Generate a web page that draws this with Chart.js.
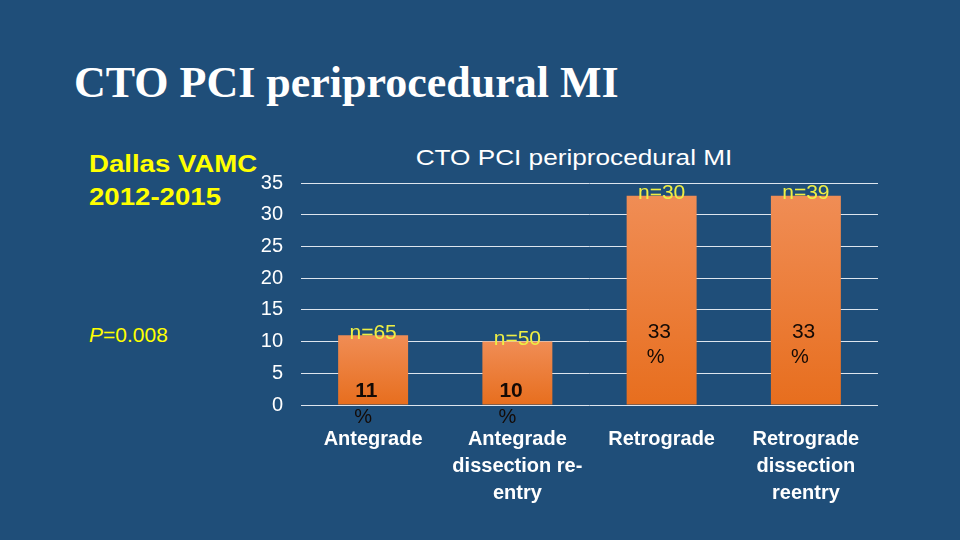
<!DOCTYPE html>
<html>
<head>
<meta charset="utf-8">
<script src="https://cdn.jsdelivr.net/npm/chart.js@4/dist/chart.umd.min.js"></script>
<style>
    body {
        margin: 0;
        width: 960px;
        height: 540px;
        overflow: hidden;
        background: #1f4e79;
        position: relative;
        font-family: "Liberation Sans", Arial, sans-serif;
    }

    #slideTitle {
        position: absolute;
        left: 74px;
        top: 61px;
        font: bold 44px / 1 "Liberation Serif", "Times New Roman", serif;
        color: #fff;
        white-space: nowrap;
    }

    #site {
        position: absolute;
        left: 89px;
        top: 147px;
        font-weight: bold;
        font-size: 24px;
        line-height: 33px;
        color: #ffff00;
        transform: scaleX(1.15);
        transform-origin: left top;
        white-space: nowrap;
    }

    #pValue {
        position: absolute;
        left: 89px;
        top: 324px;
        font-size: 21px;
        line-height: 1;
        color: #ffff00;
    }

    #chartTitle {
        position: absolute;
        left: 574px;
        top: 147px;
        font-size: 22px;
        line-height: 1;
        color: #fff;
        white-space: nowrap;
        transform: translateX(-50%) scaleX(1.19);
    }

    #miChart {
        position: absolute;
        left: 200px;
        top: 130px;
    }
</style>
</head>
<body>
<div id="slideTitle">CTO PCI periprocedural MI</div>
<div id="site">Dallas VAMC<br>2012-2015</div>
<div id="pValue"><i>P</i>=0.008</div>
<div id="chartTitle">CTO PCI periprocedural MI</div>
<canvas id="miChart" width="748" height="400"></canvas>

<script>
    const categories = [
        ["Antegrade"],
        ["Antegrade", "dissection re-", "entry"],
        ["Retrograde"],
        ["Retrograde", "dissection", "reentry"],
    ];

    const miRates = [11, 10, 33, 33];
    const pctLabels = ["11", "10", "33", "33"];
    const sampleSizes = ["n=65", "n=50", "n=30", "n=39"];

    const yMin = 0;
    const yMax = 35;
    const yStep = 5;

    const FONT = '"Liberation Sans", Arial, sans-serif';

    /*
    |--------------------------------------------------------------------------
    | Bar labels (n= on top, % inside)
    |--------------------------------------------------------------------------
    */

    const barLabels = {
        id: "barLabels",

        afterDatasetsDraw(chart) {
            const { ctx } = chart;
            const base = chart.scales.y.getPixelForValue(0);

            chart.getDatasetMeta(0).data.forEach((bar, i) => {
                const h = base - bar.y;
                const tall = h > 120;
                const y1 = tall ? base - h * 0.35 : base - 14;
                const x1 = tall ? bar.x - 14 : bar.x - 18;

                ctx.save();
                ctx.textBaseline = "middle";

                ctx.textAlign = "center";
                ctx.fillStyle = "#eeee44";
                ctx.font = "21px " + FONT;
                ctx.fillText(sampleSizes[i], bar.x, bar.y - 2);

                ctx.textAlign = "left";
                ctx.fillStyle = "#140a05";
                ctx.font = (tall ? "" : "bold ") + "21px " + FONT;
                ctx.fillText(pctLabels[i], x1, y1);

                ctx.font = "20px " + FONT;
                ctx.fillText("%", x1 - 1, y1 + 26);
                ctx.restore();
            });
        },
    };

    function barGradient(context) {
        const { chart, dataIndex } = context;

        if (!chart.chartArea) {
            return "#ed7d31";
        }

        const y = chart.scales.y;
        const top = y.getPixelForValue(miRates[dataIndex]);
        const bottom = y.getPixelForValue(0);
        const g = chart.ctx.createLinearGradient(0, top, 0, bottom);

        g.addColorStop(0, "#f08d55");
        g.addColorStop(1, "#e76e1e");

        return g;
    }

    new Chart(document.getElementById("miChart"), {
        type: "bar",

        data: {
            labels: categories,

            datasets: [
                {
                    data: miRates,
                    backgroundColor: barGradient,
                    borderWidth: 0,
                    categoryPercentage: 1,
                    barPercentage: 0.485,
                },
            ],
        },

        options: {
            responsive: false,
            animation: false,
            devicePixelRatio: 1,

            layout: {
                padding: { left: 0, right: 70, top: 53, bottom: 0 },
            },

            plugins: {
                legend: { display: false },
                tooltip: { enabled: false },
            },

            scales: {
                x: {
                    grid: { display: false },
                    border: { display: false },

                    ticks: {
                        color: "#ffffff",
                        font: { family: FONT, size: 20, weight: "bold", lineHeight: 1.35 },
                        padding: 13,
                        maxRotation: 0,
                        autoSkip: false,
                    },

                    afterFit: (s) => {
                        s.height = 125;
                    },
                },

                y: {
                    min: yMin,
                    max: yMax,

                    grid: {
                        color: "#dde5ee",
                        drawTicks: false,
                    },

                    border: { display: false },

                    ticks: {
                        stepSize: yStep,
                        color: "#ffffff",
                        font: { family: FONT, size: 20 },
                        padding: 18,
                    },

                    afterFit: (s) => {
                        s.width = 101;
                    },
                },
            },
        },

        plugins: [barLabels],
    });
</script>
</body>
</html>
